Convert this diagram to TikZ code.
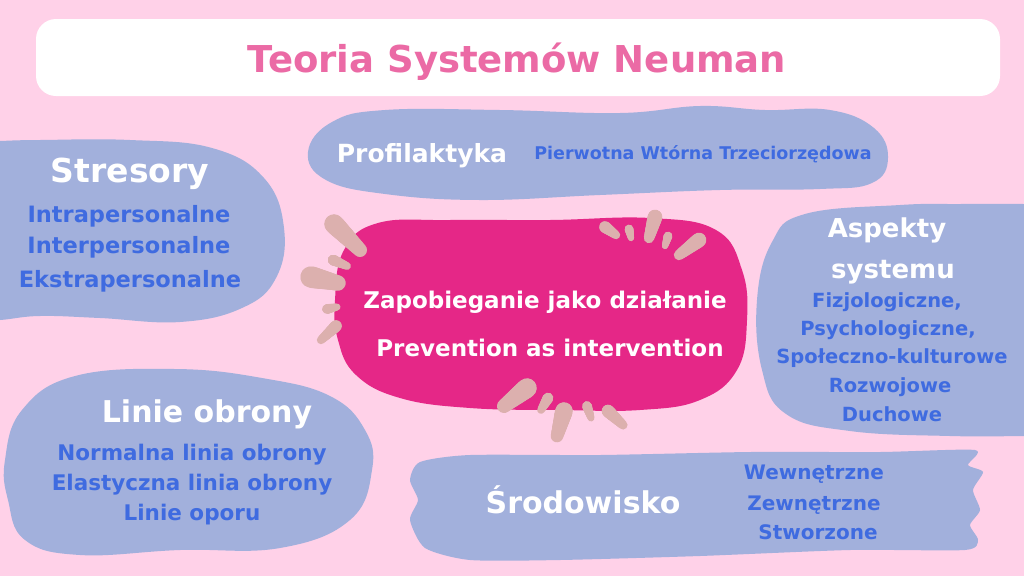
\documentclass[tikz,border=0pt]{standalone}
\usepackage{fontspec}
\setmainfont{DejaVu Sans}
\usetikzlibrary{calc}
\definecolor{bgpink}{HTML}{FFD1E8}
\definecolor{blobc}{HTML}{A2B0DC}
\definecolor{itemblue}{HTML}{3F6BE0}
\definecolor{hotpink}{HTML}{E52787}
\definecolor{petalc}{HTML}{DCB0AE}
\definecolor{titlepink}{HTML}{EB6AA5}
\tikzset{
  head/.style={text=white, font=\bfseries\fontsize{#1}{#1}\selectfont, anchor=base, inner sep=0pt},
  item/.style={text=itemblue, font=\bfseries\fontsize{#1}{#1}\selectfont, anchor=base, inner sep=0pt},
  petal/.style={draw=petalc, line cap=round, line width=#1},
  blob/.style={fill=blobc}
}
% tapered brush stroke: wide end, thin end, width
\newcommand\petal[3]{
  \foreach \t in {0.1,0.2,...,1.0}
    \draw[petal=#3*(1-0.3*\t)] (#1) -- ($(#1)!\t!(#2)$);
}

\begin{document}
\begin{tikzpicture}[x=1pt,y=-1pt]
\useasboundingbox (0,0) rectangle (1024,576);
\fill[bgpink] (0,0) rectangle (1024,576);
% title bar
\fill[white, rounded corners=20pt] (36,19) rectangle (1000,96);
\node[head=37, text=titlepink] (title) at (517,72) {Teoria Systemów Neuman};
% blobs
\fill[blob] plot[smooth cycle, tension=0.7] coordinates {(-40,143) (0,141) (40,140) (130,140) (212,148) (264,178) (284,228) (276,278) (242,308) (180,322) (100,318) (40,316) (0,320) (-40,322)};
\fill[blob] plot[smooth cycle, tension=0.7] coordinates {(308,152) (332,122) (385,110) (500,110) (620,113) (700,106) (765,110) (830,110) (874,128) (888,158) (872,183) (820,189) (720,190) (600,195) (480,200) (385,194) (326,180)};
\fill[blob] plot[smooth cycle, tension=0.7] coordinates {(1120,320) (1080,204) (1030,204) (960,204) (900,205) (805,214) (772,242) (757,300) (762,370) (786,414) (850,431) (950,436) (1030,436) (1080,436)};
\fill[blob] plot[smooth cycle, tension=0.7] coordinates {(5,460) (22,410) (75,376) (175,369) (262,378) (330,396) (365,430) (372,470) (350,520) (280,548) (180,550) (80,555) (25,540) (8,500)};
\fill[blob] plot[smooth cycle, tension=0.4] coordinates {(420,462) (470,455) (600,455) (750,452) (880,452) (975,450) (968,465) (983,472) (973,490) (980,510) (970,525) (978,540) (965,550) (850,550) (700,556) (560,560) (470,560) (425,548) (410,520) (418,500) (410,480)};
\fill[hotpink] plot[smooth cycle, tension=0.7] coordinates {(335,300) (344,250) (378,223) (450,220) (550,220) (650,218) (716,230) (742,270) (747,320) (737,370) (700,400) (640,410) (560,410) (470,408) (400,398) (356,375) (338,340)};
% petals
\petal{334,224}{360,250}{20}
\petal{333,260}{347,266}{11}
\petal{311,277}{338,283}{22}
\petal{327,309}{337,307}{10}
\petal{336,326}{321,340}{12}
\petal{605,227}{616,235}{12}
\petal{629,229}{631,238}{9}
\petal{655,217}{649,238}{15}
\petal{668,236}{665,246}{9}
\petal{699,240}{679,255}{15}
\petal{527,388}{504,406}{20}
\petal{548,398}{541,410}{11}
\petal{564,411}{557,436}{18}
\petal{587,406}{591,418}{10}
\petal{608,411}{623,425}{13}
% texts
\node[head=33] (stres) at (130,182) {Stresory};
\node[item=22.5] (stres1) at (129,222) {Intrapersonalne};
\node[item=22.5] (stres2) at (129,253) {Interpersonalne};
\node[item=22.5] (stres3) at (130,287) {Ekstrapersonalne};
\node[head=25] (prof) at (422,162) {Profilaktyka};
\node[item=17.5] (prof1) at (703,159) {Pierwotna Wtórna Trzeciorzędowa};
\node[head=23] (zap) at (545,308) {Zapobieganie jako działanie};
\node[head=23] (prev) at (550,356) {Prevention as intervention};
\node[head=26] (asp) at (887,237) {Aspekty};
\node[head=26] (sys) at (893,278) {systemu};
\node[item=19.5] (asp1) at (887,307) {Fizjologiczne,};
\node[item=19.5] (asp2) at (888,335) {Psychologiczne,};
\node[item=19.5] (asp3) at (892,363) {Społeczno-kulturowe};
\node[item=19.5] (asp4) at (890,392) {Rozwojowe};
\node[item=19.5] (asp5) at (892,421) {Duchowe};
\node[head=30] (lin) at (207,422) {Linie obrony};
\node[item=21.5] (lin1) at (192,460) {Normalna linia obrony};
\node[item=21.5] (lin2) at (192,490) {Elastyczna linia obrony};
\node[item=21.5] (lin3) at (192,520) {Linie oporu};
\node[head=30] (srod) at (583,513) {Środowisko};
\node[item=20] (srod1) at (814,479) {Wewnętrzne};
\node[item=20] (srod2) at (814,510) {Zewnętrzne};
\node[item=20] (srod3) at (818,539) {Stworzone};
\end{tikzpicture}
\end{document}
